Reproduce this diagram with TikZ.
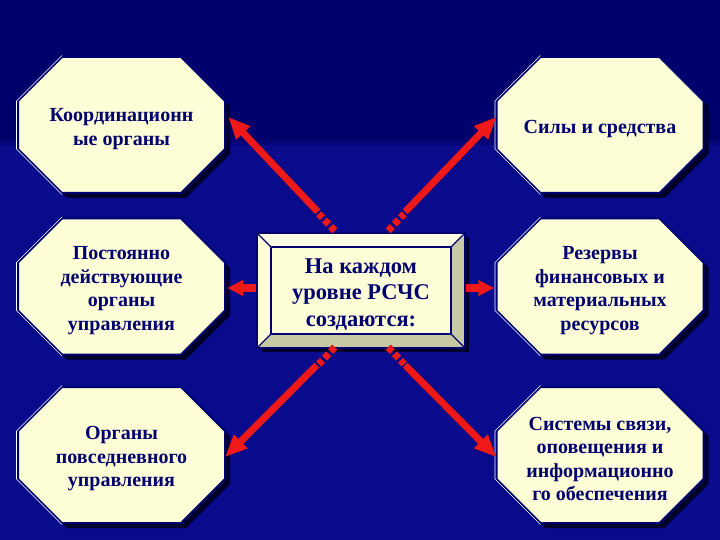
\documentclass[tikz,border=0pt]{standalone}
\usepackage{fontspec}
\setmainfont{Liberation Serif}
\usetikzlibrary{arrows.meta,calc}
\definecolor{bgtop}{RGB}{0,0,108}
\definecolor{bgbot}{RGB}{8,12,140}
\definecolor{cream}{RGB}{255,255,215}
\definecolor{navy}{RGB}{0,0,110}
\definecolor{bevelgrey}{RGB}{200,200,165}
\definecolor{arrowred}{RGB}{240,25,25}
\definecolor{shadowc}{RGB}{0,0,45}
\newcommand\octshape[2]{%
  \begin{scope}[shift={(#1,#2)}]
    \fill[shadowc] (-59.5+5,-68+5) -- (59.5+5,-68+5) -- (103.5+5,-24+5) -- (103.5+5,24+5) -- (59.5+5,68+5) -- (-59.5+5,68+5) -- (-103.5+5,24+5) -- (-103.5+5,-24+5) -- cycle;
    \filldraw[fill=cream, draw=navy, line width=2pt] (-59.5,-68) -- (59.5,-68) -- (103.5,-24) -- (103.5,24) -- (59.5,68) -- (-59.5,68) -- (-103.5,24) -- (-103.5,-24) -- cycle;
    \draw[white, line width=0.6pt] (-59.5,-69.5) -- (-105,-24) -- (-105,24) -- (-59.5,69.5);
  \end{scope}}
\begin{document}
\begin{tikzpicture}[x=1pt,y=-1pt,
  lbl/.style={font=\bfseries\fontsize{20}{23.5}\selectfont, text=navy, align=center,
    minimum width=207pt, minimum height=136pt, inner sep=0pt, yshift=-4pt},
  ctr/.style={font=\bfseries\fontsize{22.5}{26.5}\selectfont, text=navy, align=center,
    minimum width=208pt, minimum height=115pt, inner sep=0pt, yshift=-4pt},
  arr/.style={draw=arrowred, line width=7pt, -{Triangle[length=22pt,width=18pt]}},
  arrsh/.style={draw=shadowc, line width=7pt, -{Triangle[length=22pt,width=18pt]}, shift={(2,2)}},
  harr/.style={draw=arrowred, line width=8pt, -{Triangle[length=16pt,width=15pt]}},
  harrsh/.style={draw=shadowc, line width=8pt, -{Triangle[length=16pt,width=15pt]}, shift={(1.5,1.5)}},
  dsh/.style={draw=arrowred, line width=7pt, dash pattern=on 6pt off 3pt},
  dshsh/.style={draw=shadowc, line width=7pt, dash pattern=on 6pt off 3pt, shift={(1.5,1.5)}}]
\useasboundingbox (0,0) rectangle (720,540);
\fill[bgtop] (0,0) rectangle (720,143);
\fill[bgbot] (0,143) rectangle (720,540);
\fill[bgtop!60!bgbot] (0,141) rectangle (720,145);

% octagons
\octshape{121.5}{125}
\octshape{600}{125}
\octshape{121.5}{286.5}
\octshape{600}{286.5}
\octshape{121.5}{455}
\octshape{600}{455}

\node[lbl] (o1) at (121.5,125) {Координационн\\ые органы};
\node[lbl] (o2) at (600,125) {Силы и средства};
\node[lbl] (o3) at (121.5,286.5) {Постоянно\\действующие\\органы\\управления};
\node[lbl] (o4) at (600,286.5) {Резервы\\финансовых и\\материальных\\ресурсов};
\node[lbl] (o5) at (121.5,455) {Органы\\повседневного\\управления};
\node[lbl] (o6) at (600,455) {Системы связи,\\оповещения и\\информационно\\го обеспечения};

% central beveled box
\begin{scope}[shift={(361,290.5)}]
  \fill[shadowc] (-100,-53.5) rectangle (108,61.5);
  \fill[cream] (-104,-57.5) rectangle (104,57.5);
  \fill[bevelgrey] (104,-57.5) -- (104,57.5) -- (90,43.5) -- (90,-43.5) -- cycle;
  \fill[bevelgrey] (-104,57.5) -- (104,57.5) -- (90,43.5) -- (-90,43.5) -- cycle;
  \fill[cream!70!white] (-104,-57.5) -- (104,-57.5) -- (90,-43.5) -- (-90,-43.5) -- cycle;
  \draw[navy, line width=1.8pt] (-90,-43.5) rectangle (90,43.5);
  \draw[navy, line width=1.2pt] (-104,-57.5) -- (-90,-43.5) (104,-57.5) -- (90,-43.5)
     (104,57.5) -- (90,43.5) (-104,57.5) -- (-90,43.5);
  \draw[navy, line width=1.5pt] (-104,-57.5) rectangle (104,57.5);
\end{scope}
\node[ctr] (c) at (361,290.5) {На каждом\\уровне РСЧС\\создаются:};

% arrows: shadows
\draw[arrsh] ($(c.north west)+(61,-25)$) -- ($(o1.east)+(3,-12)$);
\draw[arrsh] ($(c.north east)+(-60,-25)$) -- ($(o2.west)+(0,-12)$);
\draw[arrsh] ($(c.south west)+(60,13)$) -- ($(o5.east)+(0,-2)$);
\draw[arrsh] ($(c.south east)+(-60,13)$) -- ($(o6.west)+(0,-2)$);
\draw[harrsh] ($(c.west)+(-1,-6.5)$) -- ($(o3.east)+(2,-2.5)$);
\draw[harrsh] ($(c.east)+(1,-6.5)$) -- ($(o4.west)+(-2,-2.5)$);
\draw[dshsh] ($(c.north west)+(78,-6)$) -- ($(c.north west)+(62,-23)$);
\draw[dshsh] ($(c.north east)+(-77,-6)$) -- ($(c.north east)+(-61,-23)$);
\draw[dshsh] ($(c.south west)+(78,-5)$) -- ($(c.south west)+(62,12)$);
\draw[dshsh] ($(c.south east)+(-77,-5)$) -- ($(c.south east)+(-61,12)$);
% arrows
\draw[arr] ($(c.north west)+(61,-25)$) -- ($(o1.east)+(3,-12)$);
\draw[arr] ($(c.north east)+(-60,-25)$) -- ($(o2.west)+(0,-12)$);
\draw[arr] ($(c.south west)+(60,13)$) -- ($(o5.east)+(0,-2)$);
\draw[arr] ($(c.south east)+(-60,13)$) -- ($(o6.west)+(0,-2)$);
\draw[harr] ($(c.west)+(-1,-6.5)$) -- ($(o3.east)+(2,-2.5)$);
\draw[harr] ($(c.east)+(1,-6.5)$) -- ($(o4.west)+(-2,-2.5)$);
\draw[dsh] ($(c.north west)+(78,-6)$) -- ($(c.north west)+(62,-23)$);
\draw[dsh] ($(c.north east)+(-77,-6)$) -- ($(c.north east)+(-61,-23)$);
\draw[dsh] ($(c.south west)+(78,-5)$) -- ($(c.south west)+(62,12)$);
\draw[dsh] ($(c.south east)+(-77,-5)$) -- ($(c.south east)+(-61,12)$);
\end{tikzpicture}
\end{document}
